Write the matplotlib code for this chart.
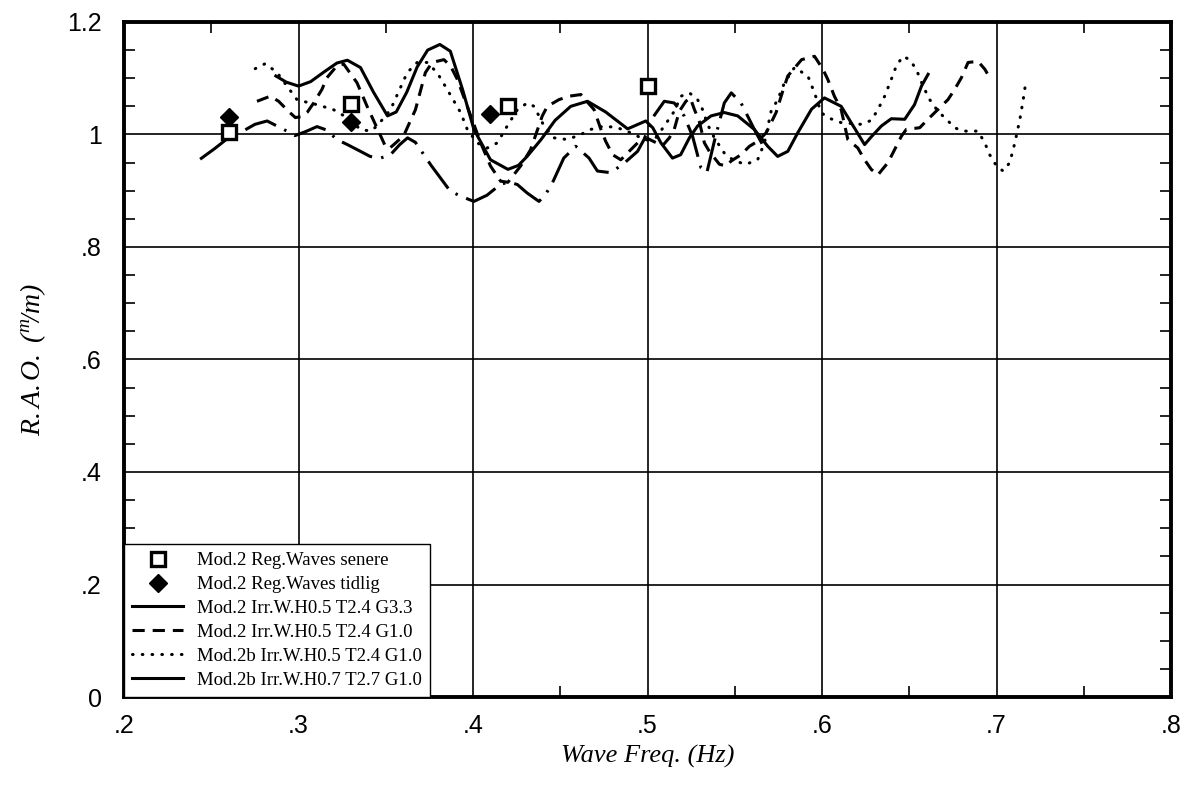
import matplotlib
matplotlib.use('Agg')
import matplotlib.pyplot as plt
from matplotlib.lines import Line2D
from matplotlib.ticker import FixedLocator, FuncFormatter

plt.rcParams['mathtext.fontset'] = 'custom'
plt.rcParams['mathtext.rm'] = 'Liberation Serif:italic'
plt.rcParams['mathtext.it'] = 'Liberation Serif:italic'

# ---------------- data ----------------
reg_senere_x = [0.260, 0.330, 0.420, 0.500]
reg_senere_y = [1.005, 1.055, 1.050, 1.086]

reg_tidlig_x = [0.260, 0.330, 0.410]
reg_tidlig_y = [1.031, 1.022, 1.036]

s1_x = [0.287, 0.293, 0.300, 0.307, 0.315, 0.322, 0.328, 0.3355, 0.343, 0.351,
        0.356, 0.362, 0.368, 0.374, 0.381, 0.387, 0.394, 0.4005, 0.410, 0.420,
        0.426, 0.431, 0.439, 0.447, 0.456, 0.4656, 0.476, 0.4886, 0.499, 0.503,
        0.5077, 0.5143, 0.519, 0.524, 0.5287, 0.5364, 0.544, 0.5517, 0.5612, 0.5689,
        0.5746, 0.5804, 0.5861, 0.594, 0.6014, 0.611, 0.6244, 0.628, 0.634, 0.6397,
        0.6474, 0.653, 0.657, 0.6608]
s1_y = [1.104, 1.093, 1.086, 1.094, 1.112, 1.127, 1.132, 1.119, 1.075, 1.033,
        1.040, 1.075, 1.120, 1.150, 1.160, 1.148, 1.080, 1.009, 0.955, 0.938,
        0.945, 0.961, 0.991, 1.025, 1.050, 1.059, 1.040, 1.010, 1.024, 1.012,
        0.985, 0.958, 0.964, 0.994, 1.015, 1.033, 1.039, 1.033, 1.009, 0.979,
        0.961, 0.970, 1.003, 1.045, 1.065, 1.050, 0.982, 0.995, 1.015, 1.028,
        1.027, 1.053, 1.086, 1.107]

s2_x = [0.2762, 0.2838, 0.2886, 0.2943, 0.2982, 0.302, 0.3049, 0.3087, 0.3134, 0.3163,
        0.322, 0.3259, 0.3335, 0.3393, 0.3498, 0.352, 0.3546, 0.3603, 0.3632, 0.367,
        0.3727, 0.3766, 0.3833, 0.3871, 0.391, 0.3967, 0.4044, 0.410, 0.4158, 0.420,
        0.4273, 0.433, 0.4397, 0.4426, 0.4493, 0.455, 0.4618, 0.4694, 0.4733, 0.476,
        0.480, 0.4847, 0.4885, 0.4943, 0.500, 0.5045, 0.5086, 0.5125, 0.5153, 0.5182,
        0.522, 0.5245, 0.5268, 0.5296, 0.5326, 0.5354, 0.5412, 0.545, 0.548, 0.5536,
        0.5584, 0.5632, 0.568, 0.5718, 0.5737, 0.5775, 0.5804, 0.5883, 0.5957, 0.6005,
        0.6033, 0.6071, 0.611, 0.6148, 0.6205, 0.6244, 0.6282, 0.632, 0.6378, 0.6416,
        0.6455, 0.6483, 0.656, 0.6607, 0.6722, 0.676, 0.6799, 0.6837, 0.6894, 0.6933,
        0.6961]
s2_y = [1.059, 1.068, 1.059, 1.041, 1.030, 1.032, 1.039, 1.056, 1.080, 1.101,
        1.122, 1.125, 1.092, 1.050, 0.979, 0.975, 0.982, 0.998, 1.018, 1.044,
        1.110, 1.128, 1.133, 1.122, 1.098, 1.050, 0.985, 0.944, 0.917, 0.915,
        0.944, 0.973, 1.033, 1.050, 1.062, 1.068, 1.071, 1.044, 1.009, 0.988,
        0.964, 0.955, 0.967, 0.985, 0.993, 0.986, 0.980, 0.994, 1.009, 1.041,
        1.059, 1.065, 1.045, 1.024, 0.985, 0.970, 0.947, 0.944, 0.953, 0.964,
        0.979, 0.988, 1.003, 1.027, 1.039, 1.077, 1.104, 1.133, 1.139, 1.116,
        1.098, 1.068, 1.044, 0.991, 0.976, 0.955, 0.938, 0.928, 0.950, 0.973,
        0.997, 1.009, 1.012, 1.027, 1.062, 1.080, 1.101, 1.128, 1.130, 1.116,
        1.101]

s3_x = [0.2752, 0.281, 0.2877, 0.2934, 0.2991, 0.3039, 0.3106, 0.3201, 0.3278, 0.3355,
        0.3412, 0.345, 0.3527, 0.3623, 0.368, 0.3737, 0.3794, 0.3852, 0.3929, 0.3967,
        0.4024, 0.4082, 0.4139, 0.4196, 0.4254, 0.4311, 0.435, 0.4407, 0.4464, 0.4541,
        0.4618, 0.4675, 0.4751, 0.4828, 0.4904, 0.4962, 0.500, 0.505, 0.5096, 0.5153,
        0.5191, 0.524, 0.5287, 0.5316, 0.5344, 0.5383, 0.544, 0.5497, 0.5564, 0.5631,
        0.567, 0.5708, 0.5746, 0.5785, 0.5842, 0.5919, 0.5957, 0.5995, 0.6033, 0.611,
        0.6225, 0.6282, 0.632, 0.6359, 0.6397, 0.6426, 0.6464, 0.6502, 0.654, 0.6579,
        0.6617, 0.6665, 0.6713, 0.676, 0.6808, 0.6894, 0.6933, 0.6961, 0.700, 0.7038,
        0.7076, 0.7105, 0.7134, 0.7153, 0.7166]
s3_y = [1.117, 1.126, 1.110, 1.086, 1.062, 1.058, 1.053, 1.044, 1.030, 1.009,
        1.006, 1.015, 1.044, 1.110, 1.128, 1.128, 1.110, 1.080, 1.039, 1.009,
        0.985, 0.976, 0.985, 1.015, 1.044, 1.056, 1.050, 1.015, 0.994, 0.991,
        1.000, 1.009, 1.015, 1.012, 1.003, 0.994, 0.990, 0.995, 1.015, 1.041,
        1.068, 1.074, 1.062, 1.044, 1.018, 0.994, 0.967, 0.953, 0.947, 0.955,
        0.985, 1.041, 1.062, 1.092, 1.119, 1.104, 1.074, 1.039, 1.030, 1.021,
        1.018, 1.025, 1.044, 1.068, 1.098, 1.122, 1.139, 1.133, 1.116, 1.086,
        1.062, 1.041, 1.027, 1.012, 1.006, 1.006, 0.985, 0.964, 0.944, 0.935,
        0.950, 0.985, 1.027, 1.062, 1.089]

s4_x = [0.2436, 0.252, 0.261, 0.2676, 0.275, 0.282, 0.2915, 0.298, 0.304, 0.3106,
        0.316, 0.322, 0.328, 0.3355, 0.341, 0.347, 0.3527, 0.358, 0.3625, 0.367,
        0.376, 0.387, 0.394, 0.4005, 0.408, 0.416, 0.421, 0.4254, 0.431, 0.4378,
        0.4415, 0.4455, 0.452, 0.4589, 0.4665, 0.4713, 0.479, 0.487, 0.4943, 0.498,
        0.503, 0.5096, 0.5153, 0.521, 0.5258, 0.5306, 0.534, 0.5383, 0.544, 0.548,
        0.5536, 0.5622, 0.567]
s4_y = [0.956, 0.975, 0.997, 1.005, 1.018, 1.024, 1.009, 0.998, 1.005, 1.014,
        1.008, 0.991, 0.982, 0.970, 0.961, 0.958, 0.964, 0.982, 0.994, 0.986,
        0.945, 0.899, 0.889, 0.881, 0.892, 0.912, 0.915, 0.911, 0.896, 0.881,
        0.893, 0.914, 0.958, 0.979, 0.958, 0.935, 0.932, 0.950, 0.970, 0.991,
        1.030, 1.059, 1.056, 1.033, 0.997, 0.941, 0.932, 0.988, 1.056, 1.074,
        1.056, 1.003, 0.976]

labels = ['Mod.2 Reg.Waves senere', 'Mod.2 Reg.Waves tidlig',
          'Mod.2 Irr.W.H0.5 T2.4 G3.3', 'Mod.2 Irr.W.H0.5 T2.4 G1.0',
          'Mod.2b Irr.W.H0.5 T2.4 G1.0', 'Mod.2b Irr.W.H0.7 T2.7 G1.0']

x_ticks = [0.2, 0.3, 0.4, 0.5, 0.6, 0.7, 0.8]
y_ticks = [0.0, 0.2, 0.4, 0.6, 0.8, 1.0, 1.2]

# ---------------- figure ----------------
fig = plt.figure(figsize=(11.96, 7.90), dpi=100)
ax = fig.add_axes([0.1037, 0.1177, 0.8754, 0.8545])

LW = 2.2
l4, = ax.plot(s4_x, s4_y, color='k', lw=LW, ls=(0, (11, 3.0, 0.8, 3.0)),
              dash_capstyle='butt', zorder=3)
l1, = ax.plot(s1_x, s1_y, color='k', lw=LW, ls='-', zorder=3)
l2, = ax.plot(s2_x, s2_y, color='k', lw=LW, ls=(0, (4, 2.6)), zorder=3)
l3, = ax.plot(s3_x, s3_y, color='k', lw=LW, ls=(0, (0.2, 3.0)),
              dash_capstyle='round', zorder=3)
m1, = ax.plot(reg_senere_x, reg_senere_y, ls='none', marker='s', ms=10,
              mfc='white', mec='k', mew=2.4, zorder=4)
m2, = ax.plot(reg_tidlig_x, reg_tidlig_y, ls='none', marker='D', ms=9.5,
              mfc='k', mec='k', mew=1, zorder=4)

ax.set_xlim(0.2, 0.8)
ax.set_ylim(0.0, 1.2)

ax.xaxis.set_major_locator(FixedLocator(x_ticks))
ax.yaxis.set_major_locator(FixedLocator(y_ticks))
ax.xaxis.set_minor_locator(FixedLocator([0.25, 0.35, 0.45, 0.55, 0.65, 0.75]))
ax.yaxis.set_minor_locator(FixedLocator([0.05, 0.1, 0.15, 0.25, 0.3, 0.35, 0.45, 0.5,
                                         0.55, 0.65, 0.7, 0.75, 0.85, 0.9, 0.95,
                                         1.05, 1.1, 1.15]))

def fmt(v, pos=None):
    if abs(v) < 1e-9:
        return '0'
    s = '%g' % round(v, 3)
    if s.startswith('0.'):
        s = s[1:]
    return s

ax.xaxis.set_major_formatter(FuncFormatter(fmt))
ax.yaxis.set_major_formatter(FuncFormatter(fmt))

ax.tick_params(which='major', length=0, labelsize=18, pad=12)
ax.tick_params(axis='y', which='major', pad=16)
ax.tick_params(which='minor', direction='in', length=8, width=1.2,
               top=True, right=True, bottom=True, left=True)
for lab in ax.get_xticklabels() + ax.get_yticklabels():
    lab.set_fontfamily('Liberation Sans')

ax.grid(True, which='major', color='k', lw=1.2)
for sp in ax.spines.values():
    sp.set_linewidth(2.8)
    sp.set_zorder(5)

ax.set_xlabel('Wave Freq. (Hz)', fontsize=19, family='Liberation Serif',
              style='italic', labelpad=5)
ax.set_ylabel(r'$R.A.O.\ (^{m}\!/m)$', fontsize=20, labelpad=14)

h4 = Line2D([], [], color='k', lw=LW, ls='-')
leg = ax.legend([m1, m2, l1, l2, l3, h4], labels, loc='lower left',
                bbox_to_anchor=(0.0, 0.0), borderaxespad=0.0,
                prop={'family': 'Liberation Serif', 'size': 13.5},
                frameon=True, fancybox=False, edgecolor='k', framealpha=1,
                handlelength=2.7, handletextpad=0.72, labelspacing=0.36,
                borderpad=0.45)
leg.get_frame().set_linewidth(1.0)
leg.set_zorder(6)

fig.savefig('out.png', dpi=100)
